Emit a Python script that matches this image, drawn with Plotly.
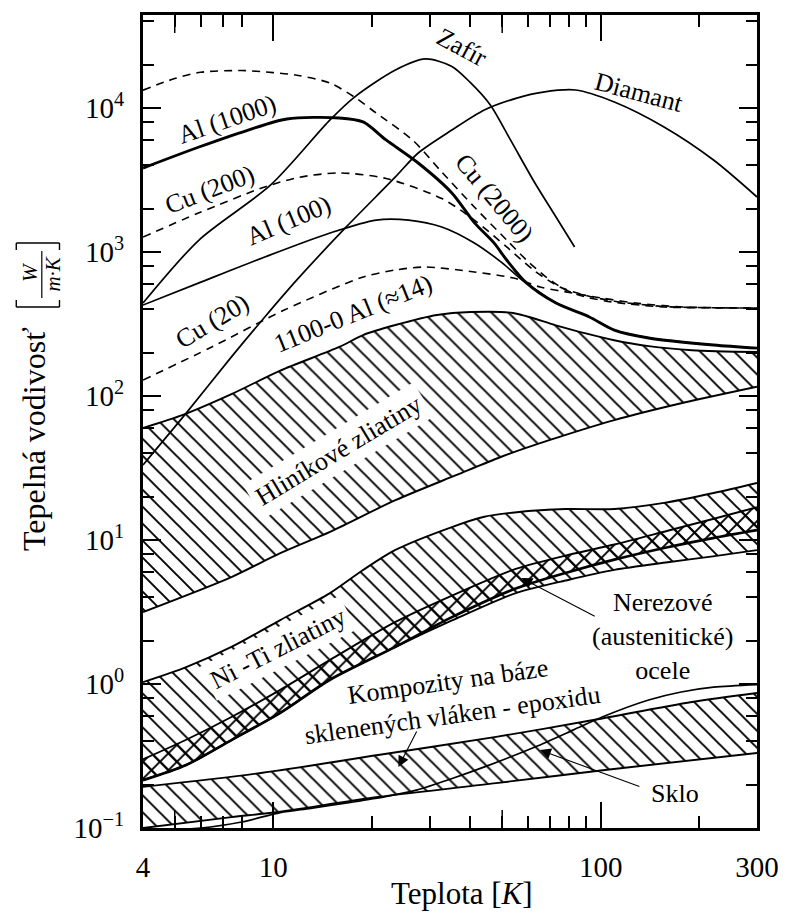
import plotly.graph_objects as go

FONT = "Liberation Serif, DejaVu Serif, serif"

# ---- thermal conductivity data, T in K, k in W/(m.K) ----
cu2000_T = [4, 5, 6, 8, 10, 11.8, 14.9, 17.7, 20.6, 26.6, 32.7, 41.1, 51.6, 59.3, 68.1, 78.2, 89.8, 108, 156, 220, 300]
cu2000_k = [13300, 16000, 17700, 18200, 17600, 16900, 14900, 11900, 9230, 6000, 3590, 2055, 1211, 880, 670, 545, 488, 450, 415, 410, 408]

cu200_T = [4, 5.93, 9.42, 12, 15.9, 22.1, 32.7, 41.1, 51.6, 62.3, 75, 90, 110, 156, 220, 300]
cu200_k = [1270, 1870, 2830, 3300, 3540, 3240, 2350, 1667, 1084, 750, 571, 500, 455, 418, 410, 408]

cu20_T = [4, 6.49, 10.8, 18.8, 23.6, 29.1, 41.1, 54.2, 65.3, 82, 100, 130, 180, 300]
cu20_k = [129, 219, 395, 670, 750, 787, 726, 659, 571, 519, 480, 440, 415, 408]

al1000_T = [4, 5.93, 8.38, 11, 15.9, 18.8, 22.1, 27.7, 35.1, 41.1, 47.2, 51.6, 59.3, 73, 92.3, 110, 140, 221, 300]
al1000_k = [3830, 5360, 7030, 8390, 8530, 8000, 6000, 4150, 2570, 1600, 1156, 880, 610, 442, 354, 287, 253, 226, 215]

al100_T = [4, 5.93, 9.42, 14.9, 20.6, 25.9, 32.7, 41.1, 50, 57.4, 65, 73, 92.3, 110, 140, 221, 300]
al100_k = [428, 610, 923, 1355, 1667, 1667, 1493, 1156, 840, 640, 525, 442, 354, 287, 253, 226, 215]

zafir_T = [4, 5.93, 9.82, 14.9, 17.7, 23.6, 29.1, 35, 40, 46, 53, 63, 73, 83.2]
zafir_k = [442, 1211, 2920, 8260, 11900, 18350, 21900, 19500, 15000, 10500, 6000, 3000, 1750, 1084]

diamant_T = [4, 5.42, 7.45, 9.42, 11.8, 16.7, 23.6, 27.7, 35.1, 44.1, 55.4, 66.7, 83.8, 110, 156, 221, 300]
diamant_k = [33.2, 76, 187, 354, 640, 1493, 3320, 4870, 7030, 9690, 11720, 12900, 13330, 11000, 7380, 4350, 2410]

# aluminium alloys band (upper edge = 1100-0 Al)
alband_top_T = [4, 5.3, 7.45, 10.5, 15.9, 18.8, 23.6, 31.6, 40, 54, 72.5, 90, 109, 140, 190, 300]
alband_top_k = [60, 74, 103, 150, 219, 265, 311, 365, 383, 377, 311, 272, 245, 222, 208, 202]
alband_bot_T = [4, 7.45, 10.5, 14.9, 23.6, 36.3, 49.5, 70, 110, 176, 300]
alband_bot_k = [3.16, 5.53, 8.1, 11.4, 18.9, 28.3, 37.7, 49.5, 68, 89, 116]

# Ni-Ti alloys band
niti_top_T = [4, 5.42, 7.45, 10.5, 14.9, 18.8, 23.6, 35.1, 44.1, 55.4, 78.2, 110, 156, 221, 300]
niti_top_k = [1.03, 1.31, 1.81, 2.78, 4.28, 6.19, 8.53, 12.3, 14.5, 15.6, 16.4, 16.4, 18.1, 21.2, 24.9]
niti_bot_T = [4, 5.42, 7.45, 10.5, 14.9, 23.6, 35, 55, 80, 110, 160, 220, 300]
niti_bot_k = [0.215, 0.274, 0.408, 0.63, 1.07, 1.81, 2.9, 4.6, 6.0, 7.3, 8.9, 10.3, 11.7]

# stainless (austenitic) steels band
steel_top_T = [4, 5.42, 7.45, 10.5, 14.9, 23.6, 35, 55, 80, 110, 160, 220, 300]
steel_top_k = [0.3, 0.41, 0.59, 0.91, 1.47, 2.7, 4.1, 6.3, 7.9, 9.3, 11.6, 14, 16.9]
steel_bot_T = [4, 5.42, 7.45, 10.5, 14.9, 23.6, 35, 55, 80, 110, 160, 220, 300]
steel_bot_k = [0.215, 0.274, 0.408, 0.63, 1.07, 1.81, 2.75, 4.28, 5.3, 6.2, 7.0, 7.7, 8.5]

# glass fibre / epoxy composites band
comp_top_T = [4, 9.17, 20.9, 47.9, 94.9, 189.5, 300]
comp_top_k = [0.193, 0.241, 0.321, 0.429, 0.562, 0.75, 0.866]
comp_bot_T = [4, 7.45, 10, 20.9, 47.9, 103, 300]
comp_bot_k = [0.1, 0.119, 0.128, 0.164, 0.205, 0.253, 0.332]

# glass
sklo_T = [4, 6, 8, 10.5, 13, 17, 22, 27.5, 35, 45, 63, 82.6, 101, 140, 176, 221, 300]
sklo_k = [0.097, 0.1, 0.11, 0.128, 0.137, 0.15, 0.165, 0.184, 0.22, 0.27, 0.365, 0.48, 0.59, 0.774, 0.88, 0.95, 0.99]

x_tick_vals = [4, 10, 100, 300]
x_tick_text = ["4", "10", "100", "300"]
x_minor_vals = [5, 6, 7, 8, 20, 30, 40, 50, 60, 70, 80, 90, 200]
x_mid_vals = [5, 50]
y_tick_vals = [0.1, 1, 10, 100, 1000, 10000]
y_tick_text = ["10<sup>\u22121</sup>", "10<sup>0</sup>", "10<sup>1</sup>",
               "10<sup>2</sup>", "10<sup>3</sup>", "10<sup>4</sup>"]
y_minor_vals = [m * d for d in [0.1, 1, 10, 100, 1000, 10000] for m in (2, 4, 6, 8)]

W, H = 791, 922
L, R, T, B = 143, 768, 15, 828


def P(px, py):
    """pixel position -> paper coordinates"""
    return (px - L) / (R - L), (B - py) / (B - T)


fig = go.Figure()

NOFILL = "rgba(0,0,0,0)"


def edge(x, y):
    fig.add_trace(go.Scatter(x=x, y=y, mode="lines", line=dict(width=0, shape="spline", smoothing=0.8),
                             hoverinfo="skip", showlegend=False))


def band(x, y, shape):
    fig.add_trace(go.Scatter(x=x, y=y, mode="lines", line=dict(width=0, shape="spline", smoothing=0.8),
                             fill="tonexty", fillcolor=NOFILL,
                             fillpattern=dict(shape=shape, size=12, solidity=0.16,
                                              fgcolor="black", bgcolor=NOFILL, fillmode="replace"),
                             hoverinfo="skip", showlegend=False))


def curve(x, y, width=1.5, dash="solid"):
    fig.add_trace(go.Scatter(x=x, y=y, mode="lines",
                             line=dict(color="black", width=width, dash=dash, shape="spline", smoothing=0.8),
                             hoverinfo="skip", showlegend=False))


# hatched bands
edge(alband_bot_T, alband_bot_k)
band(alband_top_T, alband_top_k, "\\")
edge(niti_bot_T, niti_bot_k)
band(niti_top_T, niti_top_k, "\\")
edge(steel_bot_T, steel_bot_k)
band(steel_top_T, steel_top_k, "\\")
edge(niti_bot_T, niti_bot_k)
band(steel_top_T, steel_top_k, "/")
edge(comp_bot_T, comp_bot_k)
band(comp_top_T, comp_top_k, "\\")

# band outlines
for bx, by in [(alband_top_T, alband_top_k), (alband_bot_T, alband_bot_k),
               (niti_top_T, niti_top_k), (steel_top_T, steel_top_k),
               (steel_bot_T, steel_bot_k), (comp_top_T, comp_top_k), (comp_bot_T, comp_bot_k)]:
    curve(bx, by, width=1.9)
curve(niti_bot_T, niti_bot_k, width=2.7)

# single material curves
curve(sklo_T, sklo_k, width=1.7)
dash = "8px,6px"
curve(cu2000_T, cu2000_k, width=1.6, dash=dash)
curve(cu200_T, cu200_k, width=1.6, dash=dash)
curve(cu20_T, cu20_k, width=1.6, dash=dash)
curve(al100_T, al100_k, width=1.7)
curve(al1000_T, al1000_k, width=2.9)
curve(zafir_T, zafir_k, width=1.7)
curve(diamant_T, diamant_k, width=1.7)

ann = []


def label(text, px, py, angle=0, size=26, bg=None, pad=1):
    x, y = P(px, py)
    d = dict(text=text, x=x, y=y, xref="paper", yref="paper", showarrow=False,
             textangle=angle, font=dict(family=FONT, size=size, color="black"),
             xanchor="center", yanchor="middle", align="center", borderpad=pad)
    if bg:
        d["bgcolor"] = bg
    ann.append(d)


def arrow(tail, tip):
    x, y = P(*tip)
    ann.append(dict(text="", x=x, y=y, xref="paper", yref="paper", showarrow=True,
                    ax=tail[0] - tip[0], ay=tail[1] - tip[1], axref="pixel", ayref="pixel",
                    arrowhead=2, arrowsize=2.0, arrowwidth=1.1, arrowcolor="black", standoff=0))


label("Zafír", 468, 47, 28)
label("Diamant", 648, 92, 15)
label("Al (1000)", 228, 119, -19)
label("Cu (200)", 211, 189, -21)
label("Al (100)", 291, 220, -23)
label("Cu (20)", 213, 321, -31)
label("1100-0 Al (\u224814)", 357, 313, -22)
label("Cu (2000)", 500, 198, 50)
label("Hliníkové zliatiny", 342, 450, -31, bg="white", pad=5)
label("Ni -Ti zliatiny", 280, 648, -27, bg="white", pad=4)
label("Kompozity na báze<br>sklenených vláken - epoxidu", 455, 698, -8)
label("Nerezové<br>(austenitické)<br>ocele", 672, 636, 0)
label("Sklo", 685, 793, 0)
arrow((603, 617), (528, 578))
arrow((422, 730), (403, 767))
arrow((648, 787), (547, 750))

# axis titles
label("Teplota [<i>K</i>]", 468, 893, 0, size=31)
label("Tepelná vodivosť", 32, 439, -90, size=32)
label("<i>W</i>", 28, 272, -90, size=21)
label("<i>m·K</i>", 51, 274, -90, size=21)

shapes = []


def pline(p0, p1, width=1.2):
    x0, y0 = P(*p0)
    x1, y1 = P(*p1)
    shapes.append(dict(type="line", xref="paper", yref="paper", x0=x0, y0=y0, x1=x1, y1=y1,
                       line=dict(color="black", width=width)))


# fraction bar and brackets of the unit
pline((40, 251), (40, 298), 1.2)
pline((14, 307), (58, 307), 1.4)
pline((14, 307), (14, 300), 1.4)
pline((58, 307), (58, 300), 1.4)
pline((14, 243), (58, 243), 1.4)
pline((14, 243), (14, 250), 1.4)
pline((58, 243), (58, 250), 1.4)

# medium-length ticks on the temperature axis
mid = 18 / (B - T)
for v in x_mid_vals:
    shapes.append(dict(type="line", xref="x", yref="paper", x0=v, x1=v, y0=0, y1=mid,
                       line=dict(color="black", width=1.5)))
    shapes.append(dict(type="line", xref="x", yref="paper", x0=v, x1=v, y0=1, y1=1 - mid,
                       line=dict(color="black", width=1.5)))

axis_common = dict(showline=True, linewidth=3, linecolor="black", mirror="ticks",
                   ticks="inside", tickcolor="black", tickwidth=1.5, showgrid=False, zeroline=False,
                   tickfont=dict(family=FONT, size=29, color="black"), tickmode="array")

fig.update_layout(
    width=W, height=H,
    margin=dict(l=L, r=W - R, t=T, b=H - B),
    paper_bgcolor="white", plot_bgcolor="white",
    font=dict(family=FONT, color="black"),
    showlegend=False,
    xaxis=dict(type="log", range=[0.60206, 2.47712], tickvals=x_tick_vals, ticktext=x_tick_text,
               ticklen=26, ticklabelstandoff=11,
               minor=dict(tickvals=x_minor_vals, ticklen=12, ticks="inside", tickwidth=1.5, tickcolor="black"),
               **axis_common),
    yaxis=dict(type="log", range=[-1, 4.6458], tickvals=y_tick_vals, ticktext=y_tick_text,
               ticklen=18, ticklabelstandoff=10,
               minor=dict(tickvals=y_minor_vals, ticklen=11, ticks="inside", tickwidth=1.5, tickcolor="black"),
               **axis_common),
    annotations=ann,
    shapes=shapes,
)

fig.write_html("out.html")
